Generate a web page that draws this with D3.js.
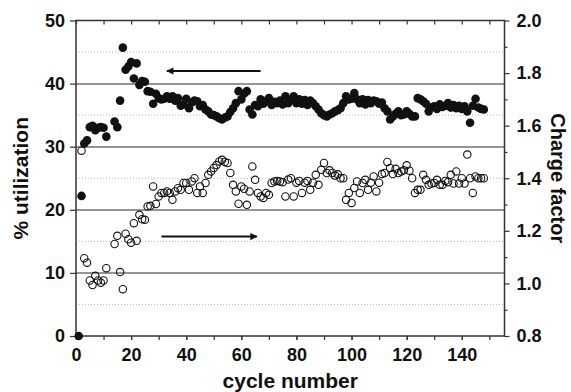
<!DOCTYPE html>
<html>
<head>
<meta charset="utf-8">
<script src="https://d3js.org/d3.v7.min.js"></script>
<style>
  body { margin: 0; background: #fff; }
  text { font-family: "Liberation Sans", Arial, sans-serif; font-weight: bold; fill: #111; }
</style>
</head>
<body>
<div id="chart"></div>
<script>
// cycle numbers (x)
var cycles = [1,2,3,4,5,6,7,8,9,10,11,12,13,14,15,16,17,18,19,20,
  21,22,23,24,25,26,27,28,29,30,31,32,33,34,35,36,37,38,39,40,
  41,42,43,44,45,46,47,48,49,50,51,52,53,54,55,56,57,58,59,60,
  61,62,63,64,65,66,67,68,69,70,71,72,73,74,75,76,77,78,79,80,
  81,82,83,84,85,86,87,88,89,90,91,92,93,94,95,96,97,98,99,100,
  101,102,103,104,105,106,107,108,109,110,111,112,113,114,115,116,117,118,119,120,
  121,122,123,124,125,126,127,128,129,130,131,132,133,134,135,136,137,138,139,140,
  141,142,143,144,145,146,147,148];

// % utilization (filled circles, left axis)
var utilization = [0,22.2,30.5,31.0,33.1,33.3,32.6,33.0,33.1,33.0,31.6,null,null,34.0,33.1,37.3,45.7,42.2,42.7,43.4,
  40.8,43.2,39.8,40.4,40.3,38.8,38.7,36.8,38.4,37.7,37.5,37.6,38.0,37.6,38.0,37.3,37.7,36.5,36.7,37.6,
  36.1,37.0,37.3,37.2,36.4,36.6,35.9,35.6,35.1,35.0,34.8,34.5,34.3,34.6,34.8,35.5,36.1,36.9,38.8,37.5,
  38.4,38.8,35.9,35.1,36.6,36.4,37.5,36.8,37.2,37.7,36.6,37.1,36.9,37.3,36.7,38.0,36.9,37.4,38.0,36.9,
  37.5,36.8,37.4,36.6,37.3,36.9,36.4,35.9,35.3,35.0,34.8,35.1,35.3,35.6,35.8,36.1,36.9,38.0,37.5,37.6,
  38.5,37.5,36.9,37.5,36.7,37.4,36.9,37.3,37.2,36.8,37.0,36.1,35.6,34.3,34.8,35.2,35.6,35.0,35.1,35.6,
  35.2,34.8,34.8,37.7,37.5,37.2,36.8,35.6,36.2,36.4,36.0,36.7,36.3,36.5,36.9,36.2,36.6,36.1,36.5,36.0,
  36.4,35.6,33.8,36.5,37.6,36.2,36.0,35.9];

// charge factor (open circles, right axis)
var chargeFactor = [null,1.505,1.096,1.079,1.011,0.994,1.029,1.011,1.003,1.011,1.058,null,null,1.150,1.181,1.043,0.978,1.189,1.168,1.155,
  1.229,1.162,1.261,1.244,1.242,1.293,1.295,1.369,1.302,1.331,1.344,1.344,1.350,1.344,1.318,1.350,1.362,1.356,1.382,1.382,
  1.356,1.388,1.400,1.344,1.369,1.344,1.382,1.413,1.426,1.439,1.450,1.464,1.470,1.462,1.458,1.420,1.375,1.350,1.303,1.369,
  1.360,1.299,1.350,1.445,1.394,1.344,1.331,1.325,1.344,1.337,1.382,1.388,1.390,1.388,1.385,1.331,1.395,1.400,1.331,1.383,
  1.390,1.344,1.383,1.390,1.356,1.383,1.413,1.375,1.432,1.458,1.420,1.430,1.420,1.410,1.415,1.400,1.400,1.318,1.344,1.306,
  1.363,1.388,1.344,1.382,1.394,1.356,1.383,1.407,1.350,1.383,1.416,1.420,1.462,1.439,1.416,1.436,1.420,1.426,1.430,1.449,
  1.429,1.400,1.344,1.356,1.356,1.413,1.394,1.375,1.380,1.382,1.394,1.375,1.375,1.390,1.385,1.413,1.380,1.426,1.380,1.400,
  1.380,1.490,1.400,1.344,1.407,1.400,1.400,1.400];

// tick values
var xTicks = [0,20,40,60,80,100,120,140];
var xMinorTicks = [0,10,20,30,40,50,60,70,80,90,100,110,120,130,140,150];
var leftTicks = [0,10,20,30,40,50];
var leftSolidGrid = [10,20,30,40];
var leftDottedGrid = [5,15,25,35,45];
var rightTicks = [0.8,1.0,1.2,1.4,1.6,1.8,2.0];
var rightMinorTicks = [0.9,1.1,1.3,1.5,1.7,1.9];

// arrows: cycle start, cycle end, level
var leftArrow = { from: 67, to: 33, util: 42 };
var rightArrow = { from: 31, to: 65.6, cf: 1.178 };

var margin = {top: 20.5, right: 66.5, bottom: 56, left: 76},
    width = 571 - margin.left - margin.right,
    height = 392 - margin.top - margin.bottom;

var svg = d3.select("#chart")
            .append("svg")
                .attr("width", 571)
                .attr("height", 392)
            .append("g")
                .attr("transform", "translate(" + margin.left + "," + margin.top + ")");

var x = d3.scaleLinear().domain([0, 155.5]).range([0, width]);
var y = d3.scaleLinear().domain([0, 50]).range([height, 0]);
var y2 = d3.scaleLinear().domain([0.8, 2.0]).range([height, 0]);

//GRID LINES//
svg.append("g").selectAll("line")
    .data(leftDottedGrid).enter()
    .append("line")
        .attr("x1", 0).attr("x2", width)
        .attr("y1", function(d){ return y(d) }).attr("y2", function(d){ return y(d) })
        .attr("stroke", "#b8b8b8")
        .attr("stroke-width", 1)
        .attr("stroke-dasharray", "1,2");
svg.append("g").selectAll("line")
    .data(leftSolidGrid).enter()
    .append("line")
        .attr("x1", 0).attr("x2", width)
        .attr("y1", function(d){ return Math.round(y(d)) + 0.5 }).attr("y2", function(d){ return Math.round(y(d)) + 0.5 })
        .attr("stroke", "#2a2a2a")
        .attr("stroke-width", 1.2);

//AXES//
function styleAxis(g) {
    g.select(".domain").remove();
    g.selectAll(".tick line").attr("stroke", "#333").attr("stroke-width", 1.2);
    g.selectAll(".tick text")
        .style("font-size", "18px")
        .style("font-weight", "bold")
        .attr("fill", "#111");
}

// bottom
svg.append("g")
    .attr("transform", "translate(0," + height + ")")
    .call(d3.axisBottom(x).tickValues(xMinorTicks).tickSize(4).tickFormat(""))
    .call(styleAxis);
svg.append("g")
    .attr("transform", "translate(0," + height + ")")
    .call(d3.axisBottom(x).tickValues(xTicks).tickSize(4).tickPadding(8).tickFormat(d3.format("d")))
    .call(styleAxis);
// top (inward ticks)
svg.append("g")
    .call(d3.axisBottom(x).tickValues(xMinorTicks).tickSize(4).tickFormat(""))
    .call(styleAxis);
// left
svg.append("g")
    .call(d3.axisLeft(y).tickValues(leftTicks).tickSize(6).tickPadding(5).tickFormat(d3.format("d")))
    .call(styleAxis);
// right
svg.append("g")
    .attr("transform", "translate(" + width + ",0)")
    .call(d3.axisRight(y2).tickValues(rightMinorTicks).tickSize(3).tickFormat(""))
    .call(styleAxis);
svg.append("g")
    .attr("transform", "translate(" + width + ",0)")
    .call(d3.axisRight(y2).tickValues(rightTicks).tickSize(5).tickPadding(7).tickFormat(d3.format(".1f")))
    .call(styleAxis);

// frame
svg.append("rect")
    .attr("x", 0).attr("y", 0)
    .attr("width", width).attr("height", height)
    .attr("fill", "none")
    .attr("stroke", "#333")
    .attr("stroke-width", 1.5);

//AXIS LABELS//
svg.append("text")
    .attr("x", width/2)
    .attr("y", height + 52)
    .style("text-anchor", "middle")
    .style("font-size", "21px")
    .text("cycle number");
svg.append("text")
    .attr("transform", "rotate(-90)")
    .attr("x", -height/2)
    .attr("y", -48)
    .style("text-anchor", "middle")
    .style("font-size", "21px")
    .text("% utilization");
svg.append("text")
    .attr("transform", "translate(" + (width + 46) + "," + (height/2) + ") rotate(90)")
    .style("text-anchor", "middle")
    .style("font-size", "20px")
    .text("Charge factor");

//ARROWS//
var defs = svg.append("defs");
defs.append("marker")
    .attr("id", "head")
    .attr("viewBox", "0 0 10 10")
    .attr("refX", 9).attr("refY", 5)
    .attr("markerWidth", 5).attr("markerHeight", 3.6)
    .attr("orient", "auto")
    .append("path")
        .attr("d", "M0,0 L10,5 L0,10 z")
        .attr("fill", "#111");
svg.append("line")
    .attr("x1", x(leftArrow.from)).attr("x2", x(leftArrow.to))
    .attr("y1", y(leftArrow.util)).attr("y2", y(leftArrow.util))
    .attr("stroke", "#111").attr("stroke-width", 2)
    .attr("marker-end", "url(#head)");
svg.append("line")
    .attr("x1", x(rightArrow.from)).attr("x2", x(rightArrow.to))
    .attr("y1", y2(rightArrow.cf)).attr("y2", y2(rightArrow.cf))
    .attr("stroke", "#111").attr("stroke-width", 2)
    .attr("marker-end", "url(#head)");

//POINTS//
var utilData = cycles.map(function(c, i){ return {cycle: c, value: utilization[i]} })
                     .filter(function(d){ return d.value !== null });
var cfData = cycles.map(function(c, i){ return {cycle: c, value: chargeFactor[i]} })
                   .filter(function(d){ return d.value !== null });

svg.append("g").selectAll("circle")
    .data(cfData).enter()
    .append("circle")
        .attr("cx", function(d){ return x(d.cycle) })
        .attr("cy", function(d){ return y2(d.value) })
        .attr("r", 3.7)
        .attr("fill", "none")
        .attr("stroke", "#111")
        .attr("stroke-width", 1.1);

svg.append("g").selectAll("circle")
    .data(utilData).enter()
    .append("circle")
        .attr("cx", function(d){ return x(d.cycle) })
        .attr("cy", function(d){ return y(d.value) })
        .attr("r", 4.3)
        .attr("fill", "#111");
</script>
</body>
</html>
